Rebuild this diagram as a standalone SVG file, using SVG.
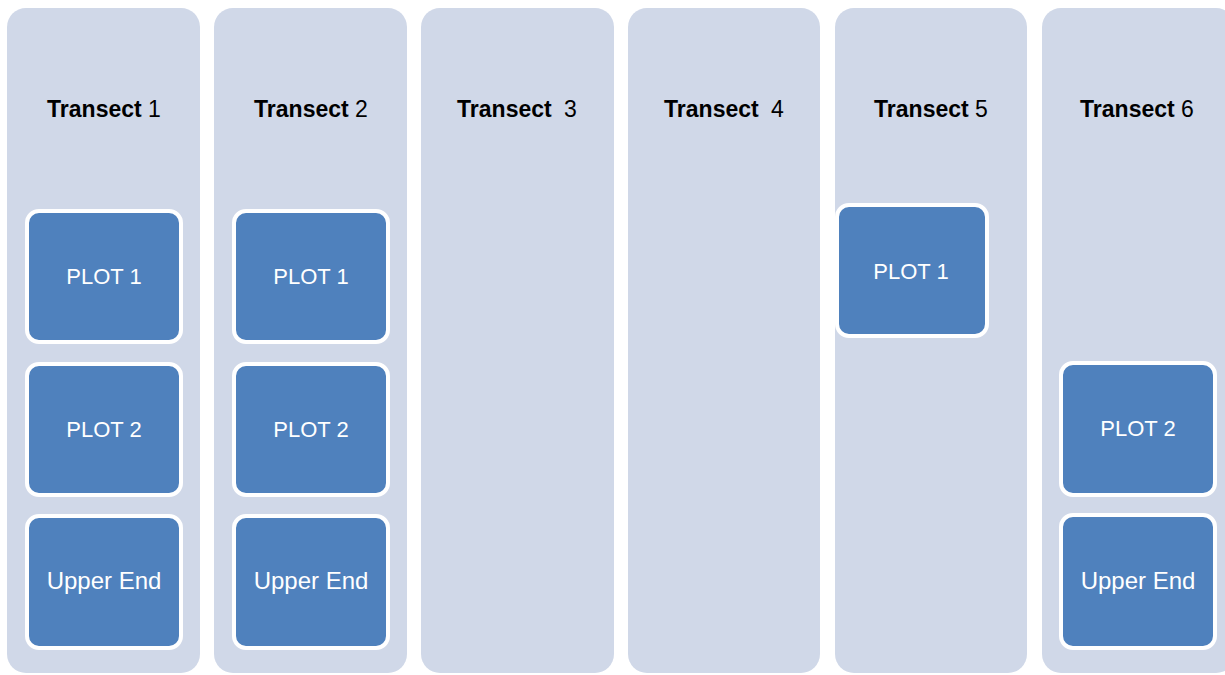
<svg xmlns="http://www.w3.org/2000/svg" width="1225" height="675" viewBox="0 0 1225 675">
<style>
.col{fill:#D0D8E8}
.box{fill:#4F81BD;stroke:#FFFFFF;stroke-width:4}
.title{font-family:"Liberation Sans",Arial,sans-serif;font-size:23px;fill:#000;text-anchor:middle}
.title .b{font-weight:bold}
.lbl{font-family:"Liberation Sans",Arial,sans-serif;font-size:22px;fill:#FFFFFF;text-anchor:middle}
.lbl2{font-family:"Liberation Sans",Arial,sans-serif;font-size:24px;fill:#FFFFFF;text-anchor:middle}
</style>
<rect width="1225" height="675" fill="#FFFFFF"/>
<g id="transect1">
<rect class="col" x="7" y="8" width="193" height="665" rx="19"/>
<text class="title" x="104" y="117"><tspan class="b">Transect</tspan> 1</text>
</g>
<g id="transect2">
<rect class="col" x="214" y="8" width="193" height="665" rx="19"/>
<text class="title" x="311" y="117"><tspan class="b">Transect</tspan> 2</text>
</g>
<g id="transect3">
<rect class="col" x="421" y="8" width="193" height="665" rx="19"/>
<text class="title" x="517" y="117"><tspan class="b">Transect</tspan><tspan dx="6"> 3</tspan></text>
</g>
<g id="transect4">
<rect class="col" x="628" y="8" width="192" height="665" rx="19"/>
<text class="title" x="724" y="117"><tspan class="b">Transect</tspan><tspan dx="6"> 4</tspan></text>
</g>
<g id="transect5">
<rect class="col" x="835" y="8" width="192" height="665" rx="19"/>
<text class="title" x="931" y="117"><tspan class="b">Transect</tspan> 5</text>
</g>
<g id="transect6">
<rect class="col" x="1042" y="8" width="193" height="665" rx="19"/>
<text class="title" x="1137" y="117"><tspan class="b">Transect</tspan> 6</text>
</g>
<g id="t1-plot1">
<rect class="box" x="27" y="211" width="154" height="131" rx="12"/>
<text class="lbl" x="104" y="284">PLOT 1</text>
</g>
<g id="t1-plot2">
<rect class="box" x="27" y="364" width="154" height="131" rx="12"/>
<text class="lbl" x="104" y="437">PLOT 2</text>
</g>
<g id="t1-upper">
<rect class="box" x="27" y="516" width="154" height="132" rx="12"/>
<text class="lbl2" x="104" y="589">Upper End</text>
</g>
<g id="t2-plot1">
<rect class="box" x="234" y="211" width="154" height="131" rx="12"/>
<text class="lbl" x="311" y="284">PLOT 1</text>
</g>
<g id="t2-plot2">
<rect class="box" x="234" y="364" width="154" height="131" rx="12"/>
<text class="lbl" x="311" y="437">PLOT 2</text>
</g>
<g id="t2-upper">
<rect class="box" x="234" y="516" width="154" height="132" rx="12"/>
<text class="lbl2" x="311" y="589">Upper End</text>
</g>
<g id="t5-plot1">
<rect class="box" x="837" y="205" width="150" height="131" rx="12"/>
<text class="lbl" x="911" y="279">PLOT 1</text>
</g>
<g id="t6-plot2">
<rect class="box" x="1061" y="363" width="154" height="132" rx="12"/>
<text class="lbl" x="1138" y="436">PLOT 2</text>
</g>
<g id="t6-upper">
<rect class="box" x="1061" y="515" width="154" height="133" rx="12"/>
<text class="lbl2" x="1138" y="589">Upper End</text>
</g>
<g id="connectors"></g>
</svg>
